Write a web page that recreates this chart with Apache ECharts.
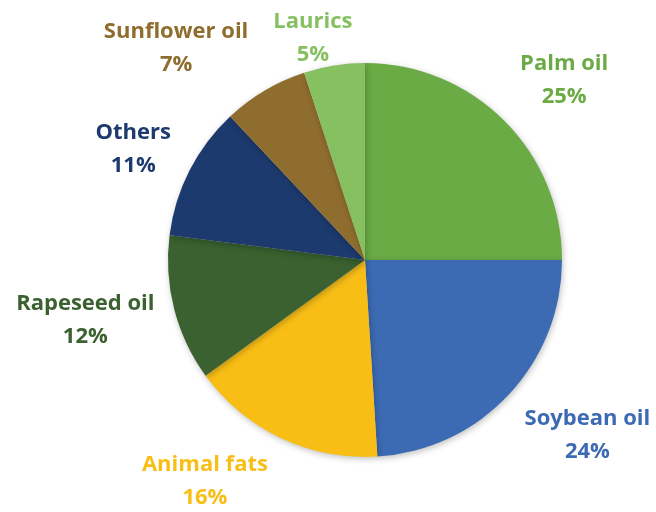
<!DOCTYPE html>
<html>
<head>
<meta charset="utf-8">
<script src="https://cdn.jsdelivr.net/npm/echarts@6/dist/echarts.min.js"></script>
<style>
  html, body { margin: 0; padding: 0; background: #fff; }
  #chart { width: 656px; height: 512px; }
</style>
</head>
<body>
<div id="chart"></div>
<script>
// Shares of global oils & fats, clockwise from 12 o'clock
const categories = ['Palm oil', 'Soybean oil', 'Animal fats', 'Rapeseed oil', 'Others', 'Sunflower oil', 'Laurics'];
const shares = [25, 24, 16, 12, 11, 7, 5];

const colors = ['#6aab45', '#3c6bb4', '#f9be16', '#3a612f', '#1d3a6e', '#8f6d2e', '#86c060'];

// Label placement around the pie: radial distance from centre and a small
// angular nudge (degrees) away from each slice's mid-angle.
const labelPlace = {
  'Palm oil':      { dist: 268, nudge: 3 },
  'Soybean oil':   { dist: 283, nudge: -5 },
  'Animal fats':   { dist: 273, nudge: 10.7 },
  'Rapeseed oil':  { dist: 286, nudge: 2.3 },
  'Others':        { dist: 257, nudge: -1.4 },
  'Sunflower oil': { dist: 284, nudge: -11.1 },
  'Laurics':       { dist: 228, nudge: -4.2 }
};

const CX = 365, CY = 260, R = 197;
const total = shares.reduce((a, b) => a + b, 0);

function labelAnchor(i) {
  let before = 0;
  for (let k = 0; k < i; k++) before += shares[k];
  const mid = (before + shares[i] / 2) / total * 360;
  const p = labelPlace[categories[i]];
  const a = (mid + p.nudge) * Math.PI / 180;
  return { x: CX + Math.sin(a) * p.dist, y: CY - Math.cos(a) * p.dist };
}

const chart = echarts.init(document.getElementById('chart'), null, { renderer: 'canvas' });

chart.setOption({
  animation: false,
  backgroundColor: '#ffffff',
  series: [{
    type: 'pie',
    center: [CX, CY],
    radius: [0, R],
    startAngle: 90,
    clockwise: true,
    avoidLabelOverlap: false,
    data: categories.map((name, i) => ({
      name,
      value: shares[i],
      itemStyle: { color: colors[i] },
      label: { color: colors[i] }
    })),
    itemStyle: {
      borderWidth: 0,
      shadowBlur: 6,
      shadowColor: 'rgba(0,0,0,0.25)',
      shadowOffsetX: 1,
      shadowOffsetY: 2
    },
    label: {
      show: true,
      position: 'outside',
      formatter: p => p.name + '\n' + p.value + '%',
      fontFamily: 'Open Sans',
      fontWeight: 'bold',
      fontSize: 22,
      lineHeight: 33,
      align: 'center'
    },
    labelLine: { show: false },
    labelLayout: params => {
      const p = labelAnchor(params.dataIndex);
      return { x: p.x, y: p.y, align: 'center', verticalAlign: 'middle' };
    }
  }]
});
</script>
</body>
</html>
